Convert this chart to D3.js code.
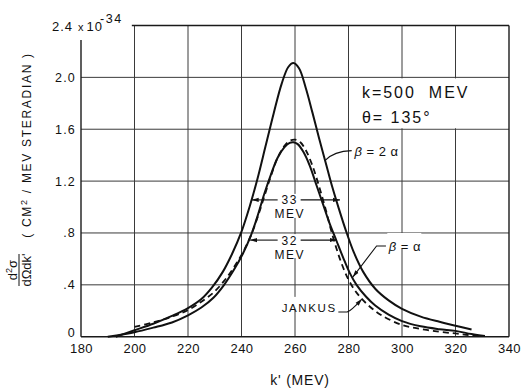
<!DOCTYPE html>
<html>
<head>
<meta charset="utf-8">
<script src="https://cdn.jsdelivr.net/npm/d3@7"></script>
<style>
  body { margin: 0; background: #fff; }
  text { font-family: "Liberation Sans", Arial, sans-serif; fill: #111; }
</style>
</head>
<body>
<svg id="chart" width="526" height="389"></svg>
<script>
// axis ticks
const kTicks = [180, 200, 220, 240, 260, 280, 300, 320, 340];
const yTicks = [0, 0.4, 0.8, 1.2, 1.6, 2.0];
const yTickLabels = ["0", ".4", ".8", "1.2", "1.6", "2.0"];

// beta = 2 alpha
const k2a = [193, 200, 207, 214, 220, 225, 229, 233, 236.5, 240, 243, 246, 249, 252, 255, 257.5, 259.4, 261.5, 264, 266.5, 269, 271.5, 274, 276.5, 279, 282, 285.5, 290, 295, 300, 307, 314, 320, 326];
const v2a = [0.0, 0.05, 0.1, 0.16, 0.22, 0.29, 0.38, 0.5, 0.64, 0.81, 1.0, 1.22, 1.47, 1.72, 1.95, 2.08, 2.11, 2.07, 1.92, 1.73, 1.53, 1.34, 1.15, 0.98, 0.82, 0.65, 0.5, 0.37, 0.28, 0.215, 0.155, 0.115, 0.085, 0.055];

// beta = alpha
const k1a = [190, 200, 207, 214, 220, 225, 229.5, 233.5, 237, 240.5, 243.5, 246, 248.5, 251, 253.5, 256, 258, 259.4, 261, 263, 265.5, 268, 270.5, 273, 275.5, 278, 280.5, 283, 286.5, 290, 295, 300, 307, 314, 320, 326, 331];
const v1a = [0.0, 0.035, 0.07, 0.11, 0.165, 0.225, 0.3, 0.4, 0.51, 0.64, 0.78, 0.93, 1.1, 1.25, 1.38, 1.46, 1.495, 1.5, 1.485, 1.43, 1.32, 1.17, 1.02, 0.87, 0.74, 0.61, 0.49, 0.4, 0.31, 0.24, 0.17, 0.12, 0.08, 0.058, 0.045, 0.02, 0.005];

// Jankus (dashed)
const kJ = [200, 207, 214, 220, 225, 229.5, 233.5, 237, 240.5, 243.5, 246, 248.5, 251, 253.5, 256, 258, 260, 262, 264, 266.5, 269, 271.5, 273.5, 275.5, 277.5, 280, 283, 287, 292, 300, 307, 314, 320, 325, 330];
const vJ = [0.075, 0.11, 0.155, 0.205, 0.27, 0.34, 0.43, 0.53, 0.65, 0.78, 0.92, 1.08, 1.24, 1.38, 1.47, 1.51, 1.52, 1.5, 1.44, 1.32, 1.16, 0.98, 0.82, 0.68, 0.56, 0.44, 0.34, 0.25, 0.17, 0.09, 0.06, 0.038, 0.025, 0.013, 0.004];

// width brackets (half maximum)
const widthLabels = ["33", "32"];
const widthLevel = [1.055, 0.745];
const widthLo = [243.8, 243.2];
const widthHi = [276.8, 275.6];

const margin = { top: 25.5, right: 17, bottom: 52.3, left: 81 };
const outerWidth = 526, outerHeight = 389;
const width = outerWidth - margin.left - margin.right;
const height = outerHeight - margin.top - margin.bottom;

const svg = d3.select('#chart');

const defs = svg.append('defs');
defs.append('marker')
  .attr('id', 'arr')
  .attr('viewBox', '0 0 10 6')
  .attr('refX', 10).attr('refY', 3)
  .attr('markerWidth', 7).attr('markerHeight', 5)
  .attr('markerUnits', 'userSpaceOnUse')
  .attr('orient', 'auto')
  .append('path').attr('d', 'M0,0 L10,3 L0,6 Z').attr('fill', '#111');

const g = svg.append('g')
  .attr('transform', 'translate(' + margin.left + ',' + margin.top + ')');

const x = d3.scaleLinear().domain([180, 340]).range([0, width]);
const y = d3.scaleLinear().domain([0, 2.4]).range([height, 0]);

// grid
const grid = g.append('g').attr('stroke', '#3a3a3a').attr('stroke-width', 1).attr('fill', 'none');
grid.selectAll('.vg')
  .data(kTicks.slice(1, -1))
  .enter().append('line')
  .attr('x1', d => x(d)).attr('x2', d => x(d))
  .attr('y1', y(2.4)).attr('y2', y(0));
grid.selectAll('.hg')
  .data(yTicks.slice(1))
  .enter().append('line')
  .attr('x1', x(180)).attr('x2', x(340))
  .attr('y1', d => y(d)).attr('y2', d => y(d));

// frame
const frame = g.append('g').attr('stroke', '#1a1a1a').attr('stroke-width', 1.4);
frame.append('line').attr('x1', x(180)).attr('x2', x(340)).attr('y1', y(0)).attr('y2', y(0));
frame.append('line').attr('x1', x(180)).attr('x2', x(180)).attr('y1', y(2.4) + 14.5).attr('y2', y(0));
frame.append('line').attr('x1', x(340)).attr('x2', x(340)).attr('y1', y(2.4)).attr('y2', y(0));
frame.append('line').attr('x1', x(199)).attr('x2', x(340)).attr('y1', y(2.4)).attr('y2', y(2.4));

// axes labels
const xAxis = d3.axisBottom(x).tickValues(kTicks).tickSize(0).tickPadding(4).tickFormat(d3.format('d'));
const gX = g.append('g').attr('transform', 'translate(0,' + height + ')').call(xAxis);
gX.select('.domain').remove();
gX.selectAll('text').style('font-size', '13px').style('letter-spacing', '0.4px').style('font-family', '"Liberation Sans", Arial, sans-serif').attr('fill', '#111').attr('dy', '0.95em');

const yAxis = d3.axisLeft(y).tickValues(yTicks).tickSize(0).tickPadding(5).tickFormat((d, i) => yTickLabels[i]);
const gY = g.append('g').call(yAxis);
gY.select('.domain').remove();
gY.selectAll('text').style('font-size', '12.5px').style('letter-spacing', '1.2px').style('font-family', '"Liberation Sans", Arial, sans-serif').attr('fill', '#111');
gY.selectAll('text').filter(d => d === 0).attr('dy', '-0.05em');

// top label 2.4 x 10^-34
const topLab = g.append('text')
  .attr('x', x(180) - 29).attr('y', y(2.4) + 5)
  .style('font-size', '13px').style('letter-spacing', '1px');
topLab.append('tspan').text('2.4');
topLab.append('tspan').attr('dx', 5).style('font-size', '11px').text('x');
topLab.append('tspan').attr('dx', 2).text('10');
topLab.append('tspan').attr('dy', -8).attr('dx', -3).style('font-size', '12.5px').style('letter-spacing', '1.5px').text('-34');

// k / theta box
g.append('rect')
  .attr('x', x(280) + 1).attr('y', y(2.0) + 1)
  .attr('width', x(340) - x(280) - 2).attr('height', y(1.6) - y(2.0) - 2)
  .attr('fill', '#fff');
g.append('text')
  .attr('x', x(285)).attr('y', y(1.84))
  .style('font-size', '16px').style('letter-spacing', '2px')
  .text('k=500\u00a0\u00a0MEV');
g.append('text')
  .attr('x', x(285)).attr('y', y(1.65))
  .style('font-size', '16px').style('letter-spacing', '2px')
  .text('\u03b8= 135\u00b0');

// curves
const line = d3.line()
  .x(d => x(d[0]))
  .y(d => y(d[1]))
  .curve(d3.curveCatmullRom.alpha(0.5));

const curves = g.append('g').attr('fill', 'none').attr('stroke', '#111');
curves.append('path').datum(d3.zip(k2a, v2a)).attr('d', line).attr('stroke-width', 2);
curves.append('path').datum(d3.zip(k1a, v1a)).attr('d', line).attr('stroke-width', 2);
curves.append('path').datum(d3.zip(kJ, vJ)).attr('d', line).attr('stroke-width', 1.8).attr('stroke-dasharray', '6,4');

// width brackets
widthLabels.forEach((lab, i) => {
  const cy = y(widthLevel[i]);
  const cx = x(258);
  g.append('rect').attr('x', cx - 16).attr('y', cy - 6).attr('width', 32).attr('height', 24).attr('fill', '#fff');
  g.append('line').attr('x1', cx - 12).attr('x2', x(widthLo[i]))
    .attr('y1', cy).attr('y2', cy).attr('stroke', '#111').attr('stroke-width', 1.1).attr('marker-end', 'url(#arr)');
  g.append('line').attr('x1', cx + 11).attr('x2', x(widthHi[i]))
    .attr('y1', cy).attr('y2', cy).attr('stroke', '#111').attr('stroke-width', 1.1).attr('marker-end', 'url(#arr)');
  g.append('text').attr('x', cx).attr('y', cy + 4.5).attr('text-anchor', 'middle')
    .style('font-size', '12px').style('letter-spacing', '1.5px').text(lab);
  g.append('text').attr('x', cx).attr('y', cy + 18.5).attr('text-anchor', 'middle')
    .style('font-size', '12px').style('letter-spacing', '1.5px').text('MEV');
});

// curve labels with leaders
const ann = g.append('g');
// beta = 2 alpha
ann.append('path')
  .attr('d', 'M' + x(271.3) + ',' + y(1.36) + ' Q' + x(274.5) + ',' + y(1.43) + ' ' + x(281.2) + ',' + y(1.435))
  .attr('fill', 'none').attr('stroke', '#111').attr('stroke-width', 1.1);
ann.append('text').attr('x', x(282.2)).attr('y', y(1.39))
  .style('font-size', '13px').style('letter-spacing', '0.5px')
  .html('<tspan font-style="italic">\u03b2</tspan> = 2 \u03b1');
// beta = alpha
ann.append('rect').attr('x', x(294.5)).attr('y', y(0.8)).attr('width', 34).attr('height', 16).attr('fill', '#fff');
ann.append('path')
  .attr('d', 'M' + x(294) + ',' + y(0.7) + ' L' + x(290.5) + ',' + y(0.7) + ' L' + x(281.6) + ',' + y(0.46))
  .attr('fill', 'none').attr('stroke', '#111').attr('stroke-width', 1.1).attr('marker-end', 'url(#arr)');
ann.append('text').attr('x', x(295)).attr('y', y(0.66))
  .style('font-size', '13px').style('letter-spacing', '0.5px')
  .html('<tspan font-style="italic">\u03b2</tspan> = \u03b1');
// Jankus
ann.append('rect').attr('x', x(254.5)).attr('y', y(0.23) - 10).attr('width', 58).attr('height', 13).attr('fill', '#fff');
ann.append('text').attr('x', x(275.6)).attr('y', y(0.19)).attr('text-anchor', 'end')
  .style('font-size', '11.5px').style('letter-spacing', '1.6px').text('JANKUS');
ann.append('path')
  .attr('d', 'M' + x(276.2) + ',' + y(0.19) + ' L' + x(279.5) + ',' + y(0.19) + ' Q' + x(281) + ',' + y(0.2) + ' ' + x(285) + ',' + y(0.29))
  .attr('fill', 'none').attr('stroke', '#111').attr('stroke-width', 1.1).attr('marker-end', 'url(#arr)');

// x title
svg.append('text')
  .attr('x', 300).attr('y', 385)
  .attr('text-anchor', 'middle')
  .style('font-size', '14px').style('letter-spacing', '0.8px')
  .text("k' (MEV)");

// y title
svg.append('text')
  .attr('transform', 'translate(31,145) rotate(-90)')
  .attr('text-anchor', 'middle')
  .style('font-size', '12px').style('letter-spacing', '1.7px')
  .html('( CM<tspan dy="-4" font-size="9px">2</tspan><tspan dy="4"> / MEV  STERADIAN )</tspan>');

// fraction d2 sigma / d Omega dk'
const frac = svg.append('g').attr('transform', 'translate(19,270) rotate(-90)');
frac.append('text').attr('x', 0).attr('y', -2.5).attr('text-anchor', 'middle')
  .style('font-size', '13px')
  .html('d<tspan dy="-5" font-size="9px">2</tspan><tspan dy="5">\u03c3</tspan>');
frac.append('line').attr('x1', -16).attr('x2', 16).attr('y1', 0).attr('y2', 0)
  .attr('stroke', '#111').attr('stroke-width', 1);
frac.append('text').attr('x', 0).attr('y', 11.5).attr('text-anchor', 'middle')
  .style('font-size', '13px').text("d\u03a9dk'");
</script>
</body>
</html>
